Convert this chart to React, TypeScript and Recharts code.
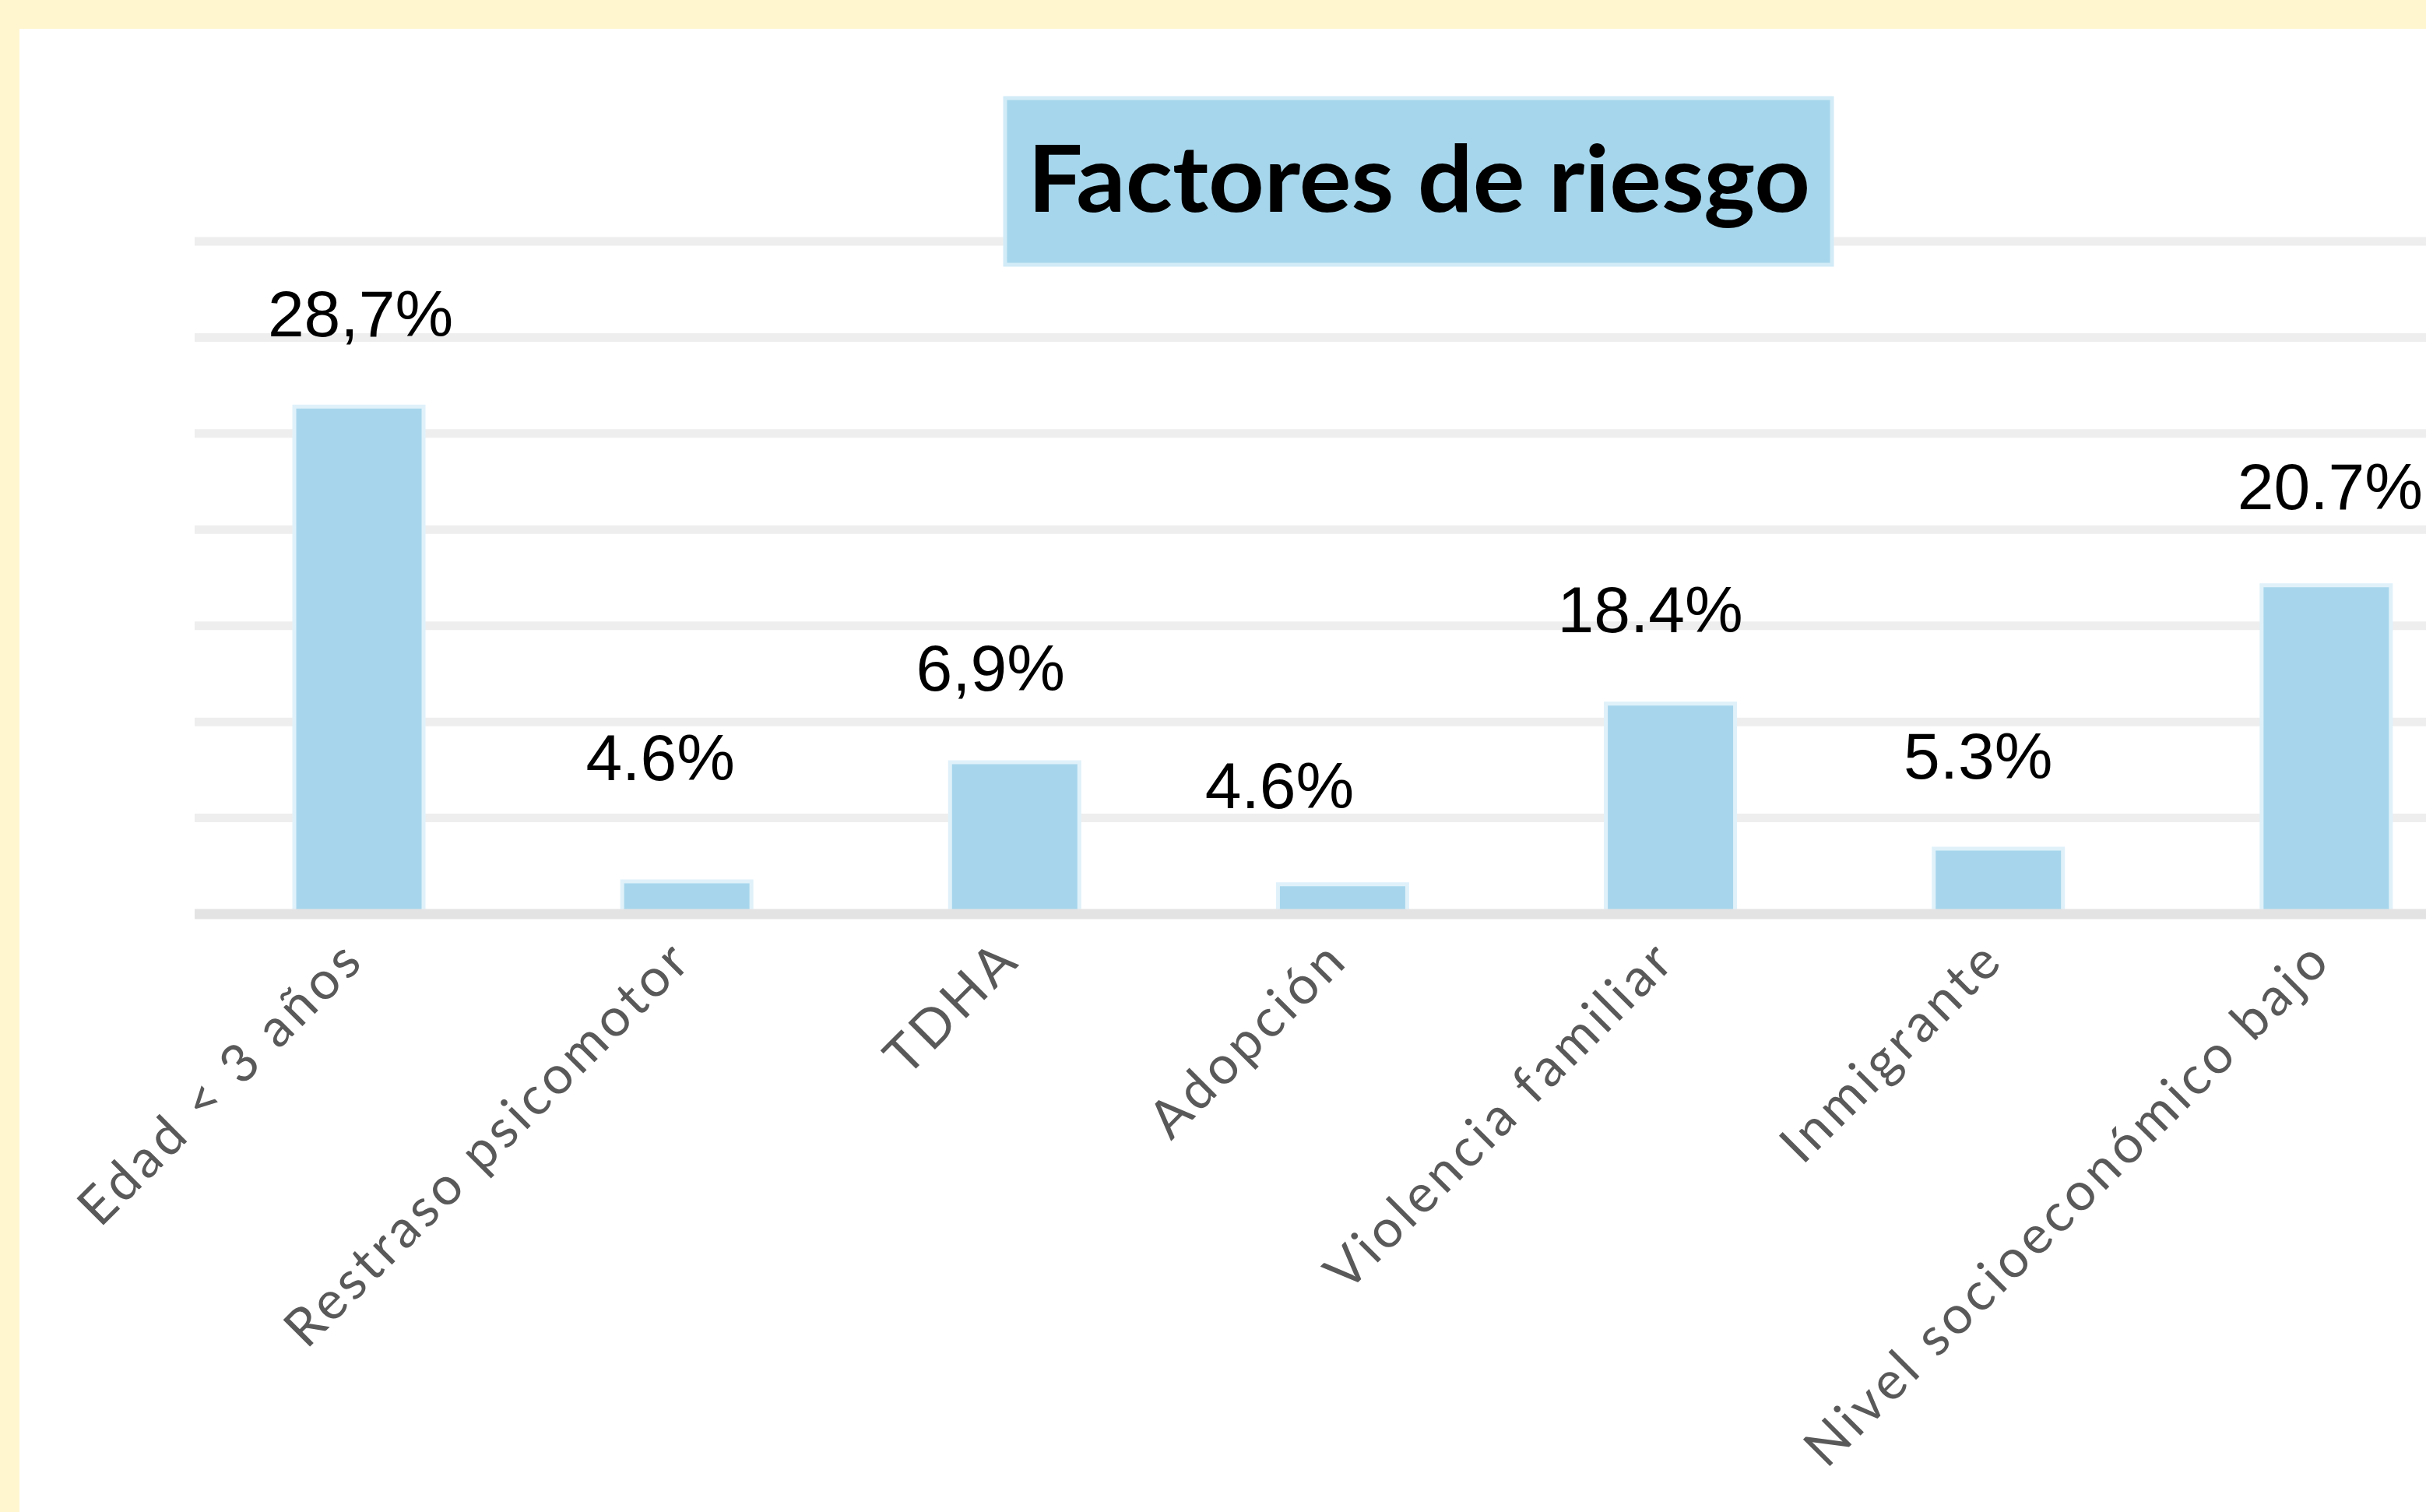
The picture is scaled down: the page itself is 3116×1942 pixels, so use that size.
import React from 'react';
import { BarChart, Bar, XAxis, YAxis, CartesianGrid, LabelList } from 'recharts';

const categories = [
  'Edad < 3 años',
  'Restraso psicomotor',
  'TDHA',
  'Adopción',
  'Violencia familiar',
  'Inmigrante',
  'Nivel socioeconómico bajo',
];
// bar heights as drawn (they don't follow the printed labels)
const barValues = [26.4, 1.7, 7.9, 1.55, 10.95, 3.4, 17.1];
const valueLabels = ['28,7%', '4.6%', '6,9%', '4.6%', '18.4%', '5.3%', '20.7%'];
const yTicks = [0, 5, 10, 15, 20, 25, 30, 35];

const data = categories.map((name, i) => ({ name, value: barValues[i], label: valueLabels[i] }));

// the labels were dragged by hand in the original, so nudge them a bit
const labelNudge: [number, number][] = [[2, 0], [-34, -40], [-31, -2], [-81, -8], [-26, -2], [-26, 0], [5, -8]];

const CategoryTick = (props: any) => {
  const { x, y, payload } = props;
  const tx = x + 10;
  const ty = y + 62;
  return (
    <text
      x={tx}
      y={ty}
      transform={`rotate(-45, ${tx}, ${ty})`}
      textAnchor="end"
      fontFamily="Lato, 'Open Sans', sans-serif"
      fontSize={68}
      letterSpacing={5}
      fill="#595959"
    >
      {payload.value}
    </text>
  );
};

const ValueLabel = (props: any) => {
  const { x, y, width, index, value } = props;
  const [dx, dy] = labelNudge[index] ?? [0, 0];
  return (
    <text
      x={x + width / 2 + dx}
      y={y - 90 + dy}
      textAnchor="middle"
      fontFamily="'Liberation Sans', Arial, sans-serif"
      fontSize={84}
      fill="#000"
    >
      {value}
    </text>
  );
};

export default function App() {
  return (
    <div style={{ position: 'absolute', left: 0, top: 0, width: 3116, height: 1942, overflow: 'hidden', background: '#FFF5CF' }}>
      <div style={{ position: 'absolute', left: 25, top: 37, right: 0, bottom: 0, background: '#FFFFFF' }} />
      <div style={{ position: 'absolute', left: 0, top: 0 }}>
        <BarChart width={3300} height={1942} data={data} margin={{ top: 310, right: 102, left: 250, bottom: 0 }}>
          <CartesianGrid vertical={false} stroke="#EEEEEE" strokeWidth={11} />
          <XAxis
            dataKey="name"
            interval={0}
            height={768}
            tickSize={0}
            tickMargin={0}
            tickLine={false}
            axisLine={{ stroke: '#E3E3E3', strokeWidth: 13 }}
            tick={<CategoryTick />}
          />
          <YAxis hide domain={[0, 35]} ticks={yTicks} />
          <Bar dataKey="value" fill="#A7D6EC" stroke="#E0F1FA" strokeWidth={5} barSize={166} isAnimationActive={false}>
            <LabelList dataKey="label" content={<ValueLabel />} />
          </Bar>
        </BarChart>
      </div>
      <svg width={3116} height={400} style={{ position: 'absolute', left: 0, top: 0 }}>
        <rect x={1291} y={126} width={1062} height={214} fill="#A6D6EC" stroke="#D2EBF7" strokeWidth={5} />
        <text
          x={1320}
          y={272}
          fontFamily="Lato, 'Open Sans', sans-serif"
          fontWeight={700}
          fontSize={119}
          textLength={1005}
          lengthAdjust="spacingAndGlyphs"
          fill="#000"
        >
          Factores de riesgo
        </text>
      </svg>
    </div>
  );
}
